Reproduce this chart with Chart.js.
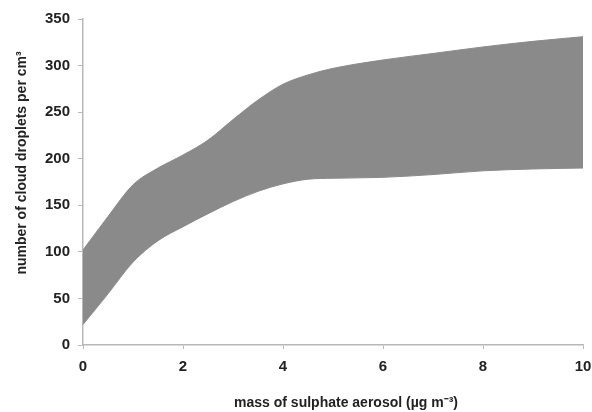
<!DOCTYPE html>
<html>
<head>
<meta charset="utf-8">
<script src="https://cdn.jsdelivr.net/npm/chart.js@4"></script>
<style>
  html, body { margin: 0; padding: 0; background: #fff; }
  #wrap { width: 592px; height: 412px; }
</style>
</head>
<body>
<div id="wrap"><canvas id="dropletsChart"></canvas></div>
<script>
// sulphate mass (ug m-3) and droplet number range
const sulphateMass = [0, 0.5, 1, 1.5, 2, 2.5, 3, 3.5, 4, 4.5, 5, 6, 7, 8, 9, 10];
const dropletsUpper = [102, 138, 172, 190, 204, 220, 242, 263, 280, 290, 297, 306, 313, 320, 326, 331];
const dropletsLower = [22, 55, 89, 112, 127, 141, 154, 165, 173, 178, 179, 180, 183, 187, 189, 190];
const xTicks = [0, 2, 4, 6, 8, 10];
const yTicks = [0, 50, 100, 150, 200, 250, 300, 350];
const xTitle = 'mass of sulphate aerosol (\u00b5g m\u207b\u00b3)';
const yTitle = 'number of cloud droplets per cm\u00b3';

function toPoints(values) {
    return sulphateMass.map((x, i) => ({ x: x, y: values[i] }));
}

const fillGrey = '#8a8a8a';
const axisGrey = '#b8b8b8';
const textColor = '#222';
const fontFamily = 'Liberation Sans, Arial, sans-serif';

// axis titles sit a little off-centre in the original, so draw them by hand
const axisTitles = {
    id: 'axisTitles',
    afterDraw(chart) {
        const c = chart.ctx;
        const area = chart.chartArea;
        c.save();
        c.fillStyle = textColor;
        c.font = 'bold 14px ' + fontFamily;
        c.textAlign = 'center';
        c.textBaseline = 'middle';
        c.fillText(xTitle, (area.left + area.right) / 2 + 13, 403);
        c.translate(22, (area.top + area.bottom) / 2 - 19);
        c.rotate(-Math.PI / 2);
        c.fillText(yTitle, 0, 0);
        c.restore();
    }
};

document.addEventListener('DOMContentLoaded', function() {
    const ctx = document.getElementById('dropletsChart');
    new Chart(ctx, {
        type: 'line',
        data: {
            datasets: [{
                label: 'upper',
                data: toPoints(dropletsUpper),
                borderColor: fillGrey,
                borderWidth: 1,
                backgroundColor: fillGrey,
                fill: '+1',
                pointRadius: 0,
                cubicInterpolationMode: 'monotone'
            }, {
                label: 'lower',
                data: toPoints(dropletsLower),
                borderColor: fillGrey,
                borderWidth: 1,
                backgroundColor: fillGrey,
                fill: false,
                pointRadius: 0,
                cubicInterpolationMode: 'monotone'
            }]
        },
        options: {
            responsive: true,
            maintainAspectRatio: false,
            animation: false,
            layout: { padding: { top: 19, right: 9, left: 37, bottom: 27 } },
            plugins: {
                legend: { display: false },
                tooltip: { enabled: false }
            },
            scales: {
                x: {
                    type: 'linear',
                    min: 0,
                    max: 10,
                    afterBuildTicks: axis => { axis.ticks = xTicks.map(v => ({ value: v })); },
                    afterFit: axis => { axis.paddingRight = 0; },
                    border: { color: axisGrey, width: 1.5 },
                    grid: { drawOnChartArea: false, color: axisGrey, tickLength: 4 },
                    ticks: { color: textColor, font: { family: fontFamily, size: 15, weight: 'bold' }, padding: 9, maxRotation: 0 }
                },
                y: {
                    min: 0,
                    max: 350,
                    afterBuildTicks: axis => { axis.ticks = yTicks.map(v => ({ value: v })); },
                    afterFit: axis => { axis.paddingTop = 0; },
                    border: { color: axisGrey, width: 1.5 },
                    grid: { drawOnChartArea: false, color: axisGrey, tickLength: 5 },
                    ticks: { color: textColor, font: { family: fontFamily, size: 15, weight: 'bold' }, padding: 8 }
                }
            }
        },
        plugins: [axisTitles]
    });
});
</script>
</body>
</html>
